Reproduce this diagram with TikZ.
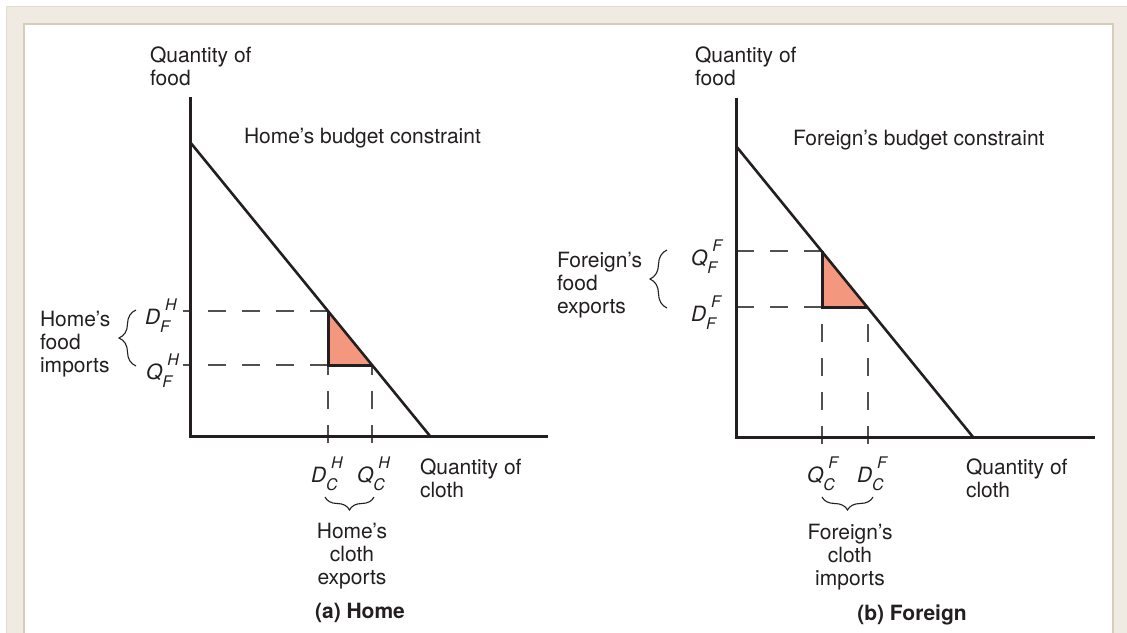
\documentclass[tikz,border=0pt]{standalone}
\usepackage{fontspec}
\setmainfont{TeX Gyre Heros}
\usetikzlibrary{decorations.pathreplacing}
\definecolor{ink}{HTML}{231F20}
\definecolor{beige}{HTML}{EFEBE2}
\definecolor{beigeline}{HTML}{D6CDBB}
\definecolor{salmon}{HTML}{F4977F}
\definecolor{dashgray}{HTML}{505050}
\newcommand\subfont{\fontsize{16}{16}\selectfont}
\newcommand\qlab[3]{\textit{#1}\rlap{\raisebox{-8pt}{\subfont\textit{#2}}}\hspace{5pt}\raisebox{14pt}{\subfont\textit{#3}}}
\begin{document}
\begin{tikzpicture}[x=1pt,y=-1pt,
  txt/.style={inner sep=0pt, outer sep=0pt, font=\fontsize{21}{23}\selectfont, text=ink},
  axisline/.style={draw=ink, line width=3pt},
  budget/.style={draw=ink, line width=2.6pt},
  guide/.style={draw=dashgray, line width=1.4pt, dash pattern=on 18pt off 16pt},
  bracestyle/.style={draw=ink, line width=1.1pt, decorate, decoration={brace, amplitude=#1}},
  tri/.style={fill=salmon},
  triedge/.style={draw=ink, line width=3pt}]
\useasboundingbox (0,0) rectangle (1127,632);
% frame
\fill[white] (0,0) rectangle (1127,632);
\filldraw[fill=beige, draw=beigeline!70, line width=1pt] (6.5,6.5) rectangle (1140,650);
\filldraw[fill=white, draw=beigeline, line width=2pt] (24,24) rectangle (1113,650);

% ---------- Panel (a) Home ----------
\coordinate (Ya) at (190,97);
\coordinate (Oa) at (190,436);
\coordinate (Xa) at (548,436);
\coordinate (Ba) at (190,142);
\coordinate (Ea) at (430,436);
\coordinate (Pa) at (328,311);
\coordinate (Ra) at (372,365);
\coordinate (Ca) at (328,365);
\coordinate (tkA1) at (183,311);
\coordinate (tkA2) at (183,365);
\coordinate (tkA3) at (328,443);
\coordinate (tkA4) at (372,443);

\fill[tri] (Pa) -- (Ra) -- (Ca) -- cycle;
\draw[guide] (Pa) -- (tkA1);
\draw[guide] (Ca) -- (tkA2);
\draw[guide] (tkA3) -- (Ca);
\draw[guide] (tkA4) -- (Ra);
\draw[axisline] (Ya) -- (Oa) -- (Xa);
\draw[budget] (Ba) -- (Ea);
\draw[triedge] (Pa) -- (Ca) -- (Ra);

\node[txt, anchor=base west, align=left] (qfa) at (150,85) {Quantity of\\food};
\node[txt, anchor=base west] (bca) at (244,143) {Home’s budget constraint};
\node[txt, anchor=base west, align=left] (fia) at (40,372) {Home’s\\food\\imports};
\node[txt, anchor=base west] (dfa) at (145,324) {\qlab{D}{F}{H}};
\node[txt, anchor=base west] (qfla) at (146,379) {\qlab{Q}{F}{H}};
\node[txt, anchor=base west] (dca) at (311,482) {\qlab{D}{C}{H}};
\node[txt, anchor=base west] (qca) at (357,482) {\qlab{Q}{C}{H}};
\node[txt, anchor=base west, align=left] (qca2) at (420,497) {Quantity of\\cloth};
\node[txt, anchor=base, align=center] (cea) at (352,584) {Home’s\\cloth\\exports};
\node[txt, anchor=base, font=\fontsize{21}{23}\selectfont\bfseries] (tta) at (360,618) {(a) Home};
\coordinate (brA1) at (136,366);
\coordinate (brA2) at (136,310);
\draw[bracestyle=17pt] (brA1) -- (brA2);
\coordinate (brA3) at (374,497);
\coordinate (brA4) at (325,497);
\draw[bracestyle=13pt] (brA3) -- (brA4);

% ---------- Panel (b) Foreign ----------
\coordinate (Yb) at (736,98);
\coordinate (Ob) at (736,437);
\coordinate (Xb) at (1095,437);
\coordinate (Bb) at (736,146);
\coordinate (Eb) at (973,437);
\coordinate (Pb) at (822,251);
\coordinate (Rb) at (868,307);
\coordinate (Cb) at (822,307);
\coordinate (tkB1) at (729,251);
\coordinate (tkB2) at (729,307);
\coordinate (tkB3) at (822,444);
\coordinate (tkB4) at (868,444);

\fill[tri] (Pb) -- (Rb) -- (Cb) -- cycle;
\draw[guide] (Pb) -- (tkB1);
\draw[guide] (Cb) -- (tkB2);
\draw[guide] (tkB3) -- (Cb);
\draw[guide] (tkB4) -- (Rb);
\draw[axisline] (Yb) -- (Ob) -- (Xb);
\draw[budget] (Bb) -- (Eb);
\draw[triedge] (Pb) -- (Cb) -- (Rb);

\node[txt, anchor=base west, align=left] (qfb) at (695,85) {Quantity of\\food};
\node[txt, anchor=base west] (bcb) at (793,145) {Foreign’s budget constraint};
\node[txt, anchor=base west, align=left] (feb) at (557,313) {Foreign’s\\food\\exports};
\node[txt, anchor=base west] (qfbl) at (691,265) {\qlab{Q}{F}{F}};
\node[txt, anchor=base west] (dfb) at (691,321) {\qlab{D}{F}{F}};
\node[txt, anchor=base west] (qcb) at (807,482) {\qlab{Q}{C}{F}};
\node[txt, anchor=base west] (dcb) at (857,482) {\qlab{D}{C}{F}};
\node[txt, anchor=base west, align=left] (qcb2) at (966,497) {Quantity of\\cloth};
\node[txt, anchor=base, align=center] (cib) at (850,585) {Foreign’s\\cloth\\imports};
\node[txt, anchor=base, font=\fontsize{21}{23}\selectfont\bfseries] (ttb) at (912,620) {(b) Foreign};
\coordinate (brB1) at (667,308);
\coordinate (brB2) at (667,250);
\draw[bracestyle=17pt] (brB1) -- (brB2);
\coordinate (brB3) at (873,497);
\coordinate (brB4) at (822,497);
\draw[bracestyle=13pt] (brB3) -- (brB4);
\end{tikzpicture}
\end{document}
